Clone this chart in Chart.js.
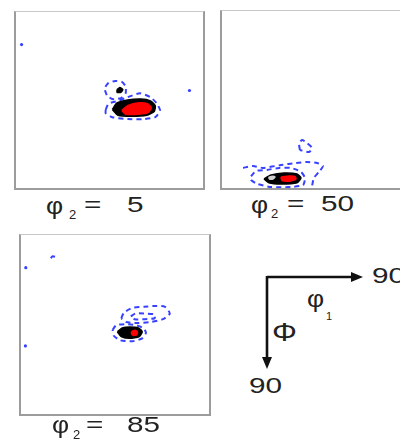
<!DOCTYPE html>
<html>
<head>
<meta charset="utf-8">
<script src="https://cdn.jsdelivr.net/npm/chart.js@4.4.1/dist/chart.umd.min.js"></script>
<style>
  body { margin: 0; width: 400px; height: 444px; overflow: hidden; background: #fff; position: relative;
         font-family: "Liberation Sans", Arial, sans-serif; color: #222; }
  .panel { position: absolute; box-sizing: border-box; border: 2px solid #9c9c9c; border-top: 1px solid #c8c8c8; }
  .panel div { position: relative; width: 100%; height: 100%; }
  .t { position: absolute; font-size: 22px; line-height: 22px; white-space: pre; transform: scaleX(1.35); transform-origin: 0 0; }
  .t.phi { font-size: 24px; transform: scaleX(1.1); }
  .t.sub { font-size: 13px; line-height: 13px; transform: none; }
  svg { position: absolute; left: 220px; top: 240px; }
</style>
</head>
<body>

<div class="panel" style="left:14px;top:11px;width:191px;height:179px"><div><canvas id="sec5"></canvas></div></div>
<div class="panel" style="left:220px;top:10px;width:192px;height:180px"><div><canvas id="sec50"></canvas></div></div>
<div class="panel" style="left:19px;top:234px;width:192px;height:182px"><div><canvas id="sec85"></canvas></div></div>

<!-- section labels -->
<span class="t phi" style="left:46px;top:195px">φ</span><span class="t sub" style="left:69px;top:208px">2</span>
<span class="t" style="left:84px;top:194px">=</span><span class="t" style="left:127px;top:194px">5</span>

<span class="t phi" style="left:251px;top:194px">φ</span><span class="t sub" style="left:271px;top:207px">2</span>
<span class="t" style="left:287px;top:193px">=</span><span class="t" style="left:321px;top:193px">50</span>

<span class="t phi" style="left:52px;top:414px">φ</span><span class="t sub" style="left:73px;top:428px">2</span>
<span class="t" style="left:86px;top:414px">=</span><span class="t" style="left:127px;top:414px">85</span>

<svg width="180" height="170" viewBox="0 0 180 170" font-family="Liberation Sans, Arial" fill="#222">
  <line x1="47" y1="37" x2="133" y2="37" stroke="#111" stroke-width="2.6"/>
  <polygon points="143,37 131,32 131,42" fill="#111"/>
  <line x1="47" y1="36" x2="47" y2="118" stroke="#111" stroke-width="2.6"/>
  <polygon points="47,129 42,117 52,117" fill="#111"/>
  <text transform="translate(152,43) scale(1.35,1)" font-size="22">90</text>
  <text transform="translate(29,153) scale(1.35,1)" font-size="22">90</text>
  <text transform="translate(87,67) scale(1.15,1)" font-size="23">φ</text>
  <text x="106" y="80" font-size="11">1</text>
  <text transform="translate(52,101) scale(1.2,1)" font-size="26">Φ</text>
</svg>

<script>
// section labels (phi2)
const sections = ["5", "50", "85"];

// phi2 = 5 : contours as [phi1, Phi] points
const s5Red = [[51.2,50.6],[54.1,48.1],[59.8,46.5],[64.1,47.0],[66.0,49.1],[64.6,51.6],[59.8,52.6],[53.1,52.6]];
const s5Black = [[46.4,50.1],[48.8,46.6],[54.1,45.0],[60.8,44.5],[65.6,45.5],[68.0,48.1],[67.5,51.1],[63.7,53.2],[56.0,53.7],[49.3,53.2]];
const s5Dot = [[48.8,39.4],[50.2,38.3],[51.7,39.4],[50.7,40.9],[48.8,40.9]];
const s5BlueA = [[43.6,42.4],[42.6,38.8],[44.5,35.8],[47.9,34.8],[51.2,35.3],[53.1,37.8],[53.1,41.4],[50.7,44.0],[46.4,44.5]];
const s5BlueB = [[43.1,50.1],[44.5,47.0],[49.3,45.5],[54.1,43.5],[60.3,41.4],[65.6,43.5],[68.9,47.0],[70.4,50.6],[68.0,54.2],[62.2,55.2],[54.1,55.2],[46.4,54.2],[43.1,52.1]];
const s5Specks = [[0.8,15.3],[85.2,39.9]];

// phi2 = 50
const s50Red = [[28.2,84.4],[32.1,83.9],[34.9,84.1],[35.4,85.4],[33.0,86.4],[28.7,86.2]];
const s50Black = [[20.1,85.4],[23.5,83.4],[29.7,82.4],[35.9,82.9],[37.8,84.9],[35.9,87.4],[28.2,88.0],[22.5,87.4]];
const s50Hole = [[22.3,84.6],[23.5,84.1],[25.4,84.4],[24.4,85.4],[22.7,85.4]];
const s50BlueA = [[13.9,84.0],[16.3,81.3],[21.5,80.8],[27.3,79.8],[33.0,79.8],[37.8,81.8],[39.7,84.9],[38.8,88.5],[33.0,89.5],[23.5,89.5],[16.8,87.9],[13.9,85.9]];
const s50BlueB = [[10.1,79.8],[14.8,78.8],[19.6,79.8],[28.2,78.3],[35.4,77.3],[40.7,76.8],[45.5,77.3],[48.3,78.8],[46.4,81.8],[44.0,84.9],[43.1,89.0]];
const s50BlueC = [[37.3,70.7],[36.9,67.6],[38.3,65.6],[40.7,67.1],[43.1,69.6],[41.7,71.7]];

// phi2 = 85
const s85Red = [[53.5,48.5],[55.0,48.0],[56.2,48.9],[55.8,50.5],[54.0,50.7],[53.2,49.7]];
const s85Black = [[46.2,48.8],[48.6,46.8],[52.4,46.3],[56.7,46.8],[58.6,48.8],[57.1,51.3],[52.4,52.3],[48.1,51.3]];
const s85BlueA = [[43.8,47.8],[45.7,45.3],[50.5,44.8],[55.2,45.3],[59.0,46.8],[60.5,49.3],[58.6,52.3],[53.8,53.8],[47.6,53.3],[44.3,50.8]];
const s85BlueB = [[48.1,41.7],[49.5,38.7],[53.8,36.2],[59.5,35.7],[65.7,35.2],[70.0,35.7],[72.4,39.2],[69.0,42.2],[62.9,43.7],[56.2,44.2],[50.5,43.7]];
const s85BlueC = [[52.9,40.7],[55.2,39.2],[59.5,39.2],[64.8,39.7],[64.8,41.7],[60.0,42.2],[54.8,42.2]];
const s85BlueD = [[12.9,10.1],[13.8,9.1],[15.7,9.6]];
const s85Specks = [[0.4,15.1],[0.2,56.3]];

const pts = (arr) => arr.map(([x, y]) => ({ x, y }));
const loop = (arr) => pts([...arr, arr[0]]);

const filled = (arr, color, order) => ({
  data: loop(arr), showLine: true, fill: "shape", tension: 0.2, order,
  backgroundColor: color, borderColor: color, borderWidth: 1.5, pointRadius: 0
});
const dashed = (arr, closed) => ({
  data: closed ? loop(arr) : pts(arr), showLine: true, fill: false, tension: 0.2, order: 5,
  borderColor: "rgb(55,65,255)", borderWidth: 2, borderDash: [5, 4], pointRadius: 0
});
const specks = (arr) => ({
  data: pts(arr), showLine: false, order: 5, clip: false,
  pointRadius: 1.6, pointBackgroundColor: "rgb(55,65,255)", pointBorderWidth: 0
});

function section(id, datasets) {
  new Chart(document.getElementById(id), {
    type: "scatter",
    data: { datasets },
    options: {
      responsive: true,
      maintainAspectRatio: false,
      animation: false,
      layout: { padding: 0 },
      plugins: { legend: { display: false }, tooltip: { enabled: false } },
      scales: {
        x: { type: "linear", min: 0, max: 90, display: false },
        y: { type: "linear", min: 0, max: 90, reverse: true, display: false }
      }
    }
  });
}

section("sec" + sections[0], [
  filled(s5Red, "#ff0000", 0),
  filled(s5Black, "#000000", 2),
  filled(s5Dot, "#000000", 2),
  dashed(s5BlueA, true),
  dashed(s5BlueB, true),
  specks(s5Specks)
]);

section("sec" + sections[1], [
  filled(s50Red, "#ff0000", 0),
  filled(s50Hole, "#d0d0d0", 1),
  filled(s50Black, "#000000", 2),
  dashed(s50BlueA, true),
  dashed(s50BlueB, false),
  dashed(s50BlueC, true)
]);

section("sec" + sections[2], [
  filled(s85Red, "#ff0000", 0),
  filled(s85Black, "#000000", 2),
  dashed(s85BlueA, true),
  dashed(s85BlueB, true),
  dashed(s85BlueC, true),
  dashed(s85BlueD, false),
  specks(s85Specks)
]);
</script>
</body>
</html>
